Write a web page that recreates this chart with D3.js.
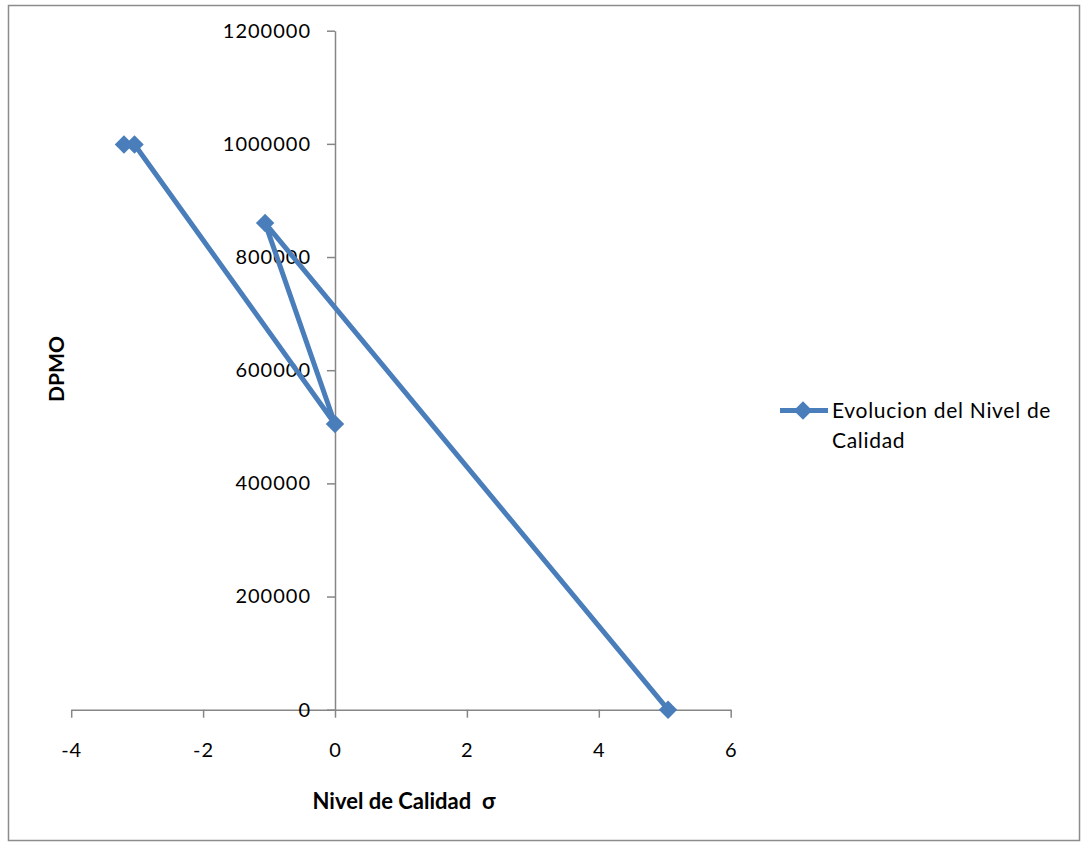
<!DOCTYPE html>
<html>
<head>
<meta charset="utf-8">
<script src="https://cdn.jsdelivr.net/npm/d3@7"></script>
<style>
  html, body { margin: 0; padding: 0; background: #fff; }
  svg { display: block; }
  .axis path, .axis line { stroke: #868686; stroke-width: 1.5; }
  .axis text { font-family: Lato, "Open Sans", sans-serif; font-size: 20px; fill: #000; letter-spacing: 1px; }
</style>
</head>
<body>
<svg id="chart" width="1084" height="845"></svg>
<script>
// Sigma quality level versus defects per million opportunities
const sigmaLevels = [-3.2, -3.04, 0, -1.06, 5.05];
const dpmoValues = [999000, 999000, 505000, 860000, 0];
const xTicks = [-4, -2, 0, 2, 4, 6];
const yTicks = [0, 200000, 400000, 600000, 800000, 1000000, 1200000];
const seriesName = ["Evolucion del Nivel de", "Calidad"];
const xTitle = "Nivel de Calidad  σ";
const yTitle = "DPMO";

const points = sigmaLevels.map((s, i) => ({ x: s, y: dpmoValues[i] }));

const svg = d3.select("#chart");
const blue = "#4A7EBB";

// outer chart border
svg.append("rect")
  .attr("x", 8.5).attr("y", 5.5)
  .attr("width", 1071).attr("height", 835)
  .attr("fill", "#fff").attr("stroke", "#8c8c8c").attr("stroke-width", 1.5);

const x = d3.scaleLinear().domain([-4, 6]).range([71.2, 730.7]);
const y = d3.scaleLinear().domain([0, 1200000]).range([709.7, 30.7]);

// x axis crosses at DPMO = 0
const xAxis = svg.append("g")
  .attr("class", "axis")
  .attr("transform", `translate(0,${y(0)})`)
  .call(d3.axisBottom(x).tickValues(xTicks).tickSize(8).tickPadding(25).tickSizeOuter(0)
    .tickFormat(d3.format("d")));
xAxis.selectAll("text").text(d => d < 0 ? "-" + Math.abs(d) : d);

// y axis crosses at sigma = 0
svg.append("g")
  .attr("class", "axis")
  .attr("transform", `translate(${x(0)},0)`)
  .call(d3.axisLeft(y).tickValues(yTicks).tickSize(8).tickPadding(16).tickSizeOuter(0)
    .tickFormat(d3.format("d")));

// series line
const line = d3.line().x(d => x(d.x)).y(d => y(d.y));
svg.append("path")
  .datum(points)
  .attr("d", line)
  .attr("fill", "none")
  .attr("stroke", blue)
  .attr("stroke-width", 5)
  .attr("stroke-linejoin", "round");

// diamond markers (square turned 45 degrees)
const diamond = d3.symbol().type(d3.symbolSquare).size(170);
svg.selectAll(".marker")
  .data(points)
  .join("path")
  .attr("class", "marker")
  .attr("transform", d => `translate(${x(d.x)},${y(d.y)}) rotate(45)`)
  .attr("d", diamond)
  .attr("fill", blue);

// axis titles
svg.append("text")
  .attr("x", 404).attr("y", 809)
  .attr("text-anchor", "middle")
  .attr("font-family", "Lato, 'Open Sans', sans-serif")
  .attr("font-weight", "bold").attr("font-size", 22)
  .attr("xml:space", "preserve")
  .text(xTitle);

svg.append("text")
  .attr("transform", "translate(64,369) rotate(-90)")
  .attr("text-anchor", "middle")
  .attr("font-family", "Lato, 'Open Sans', sans-serif")
  .attr("font-weight", "bold").attr("font-size", 21)
  .text(yTitle);

// legend
const legend = svg.append("g");
legend.append("line")
  .attr("x1", 780).attr("x2", 828).attr("y1", 410.5).attr("y2", 410.5)
  .attr("stroke", blue).attr("stroke-width", 5);
legend.append("path")
  .attr("transform", "translate(803,410.5) rotate(45)")
  .attr("d", diamond)
  .attr("fill", blue);
legend.selectAll(".leg")
  .data(seriesName)
  .join("text")
  .attr("x", 832)
  .attr("y", (d, i) => 418 + i * 30)
  .attr("font-family", "Lato, 'Open Sans', sans-serif")
  .attr("font-size", 21)
  .attr("letter-spacing", 0.7)
  .text(d => d);
</script>
</body>
</html>
